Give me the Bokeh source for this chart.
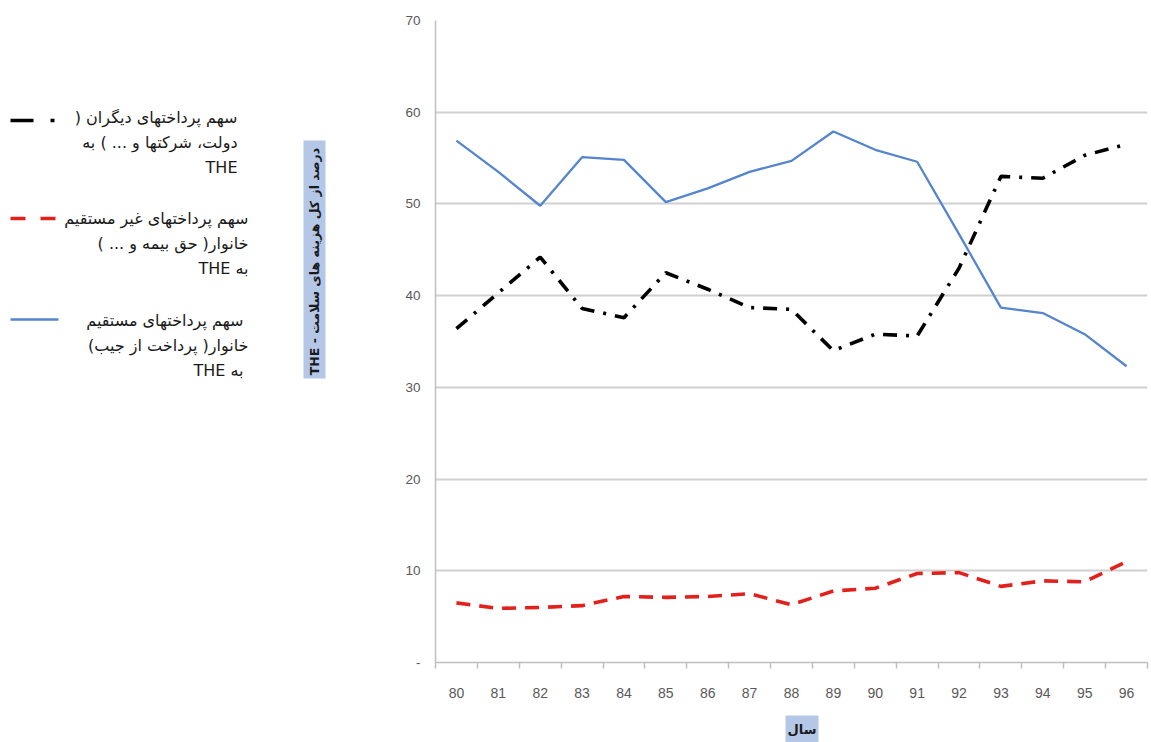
import math
from bokeh.plotting import figure
from bokeh.layouts import row, column
from bokeh.models import Range1d, FixedTicker
from bokeh.core.properties import value
from bokeh.embed import file_html
from bokeh.resources import INLINE

# ---------------- data ----------------
years = [80, 81, 82, 83, 84, 85, 86, 87, 88, 89, 90, 91, 92, 93, 94, 95, 96]
direct_oop = [56.9, 53.5, 49.8, 55.1, 54.8, 50.2, 51.7, 53.5, 54.7, 57.9, 55.9, 54.6, 46.7, 38.7, 38.1, 35.8, 32.3]
others_share = [36.4, 40.3, 44.2, 38.6, 37.6, 42.5, 40.7, 38.7, 38.5, 34.0, 35.8, 35.6, 43.0, 53.0, 52.8, 55.3, 56.5]
indirect_hh = [6.5, 5.9, 6.0, 6.2, 7.2, 7.1, 7.2, 7.5, 6.3, 7.8, 8.1, 9.7, 9.8, 8.3, 8.9, 8.8, 11.0]
y_ticks = [0, 10, 20, 30, 40, 50, 60, 70]

RLE, PDF = "\u202b", "\u202c"
def rtl(s):
    return RLE + s + PDF

legend_lines = [
    ["سهم پرداختهای دیگران (", "دولت، شرکتها و ... ) به", "THE"],
    ["سهم پرداختهای غیر مستقیم", "خانوار( حق بیمه و ... )", "به THE"],
    ["سهم  پرداختهای مستقیم", "خانوار( پرداخت از جیب)", "به  THE"],
]
y_label = "درصد از کل هزینه های سلامت - THE"
x_label = "سال"

BLUE = "#5585cc"
RED = "#e3211c"
BLACK = "#000000"
GRID = "#d0d0d0"
AXIS = "#bfbfbf"
TICK_TXT = "#595959"
LABEL_BG = "#b4c7e7"

TOP, BOTTOM, LEFT, RIGHT = 20, 46, 95, 4


def blank(fig):
    fig.xaxis.visible = False
    fig.yaxis.visible = False
    fig.xgrid.visible = False
    fig.ygrid.visible = False
    fig.outline_line_color = None


# ---------------- main chart ----------------
p = figure(width=811, height=708, x_range=Range1d(79.5, 96.5), y_range=Range1d(0, 70),
           output_backend="svg", toolbar_location=None,
           min_border_left=LEFT, min_border_right=RIGHT, min_border_top=TOP, min_border_bottom=BOTTOM)
p.outline_line_color = None
p.background_fill_color = "white"
p.xgrid.grid_line_color = None
p.ygrid.ticker = FixedTicker(ticks=y_ticks)
p.ygrid.grid_line_color = GRID
p.ygrid.grid_line_width = 2

p.yaxis.ticker = FixedTicker(ticks=y_ticks)
p.yaxis.major_label_overrides = {0: "-"}
p.yaxis.axis_line_color = AXIS
p.yaxis.axis_line_width = 1.5
p.yaxis.major_tick_line_color = None
p.yaxis.minor_tick_line_color = None
p.yaxis.major_tick_out = 0
p.yaxis.major_tick_in = 0
p.yaxis.major_label_standoff = 15
p.yaxis.major_label_text_font = "Liberation Sans"
p.yaxis.major_label_text_font_size = "13.5px"
p.yaxis.major_label_text_color = TICK_TXT

boundaries = [y - 0.5 for y in years] + [years[-1] + 0.5]
p.xaxis.ticker = FixedTicker(ticks=years, minor_ticks=boundaries)
p.xaxis.axis_line_color = AXIS
p.xaxis.axis_line_width = 1.5
p.xaxis.major_tick_line_color = None
p.xaxis.major_tick_out = 0
p.xaxis.major_tick_in = 0
p.xaxis.minor_tick_line_color = AXIS
p.xaxis.minor_tick_line_width = 1.5
p.xaxis.minor_tick_out = 6
p.xaxis.minor_tick_in = 0
p.xaxis.major_label_standoff = 19
p.xaxis.major_label_text_font = "Liberation Sans"
p.xaxis.major_label_text_font_size = "14px"
p.xaxis.major_label_text_color = TICK_TXT

p.line(years, direct_oop, line_color=BLUE, line_width=2.3)
p.line(years, indirect_hh, line_color=RED, line_width=3.6, line_dash="14 9")
p.line(years, others_share, line_color=BLACK, line_width=3.6, line_dash="14 9 3 9")

# ---------------- left panel: legend + y label ----------------
# frame is aligned with the main chart's frame (page y 20..662)
lf = figure(width=340, height=708, x_range=Range1d(0, 340), y_range=Range1d(708 - BOTTOM, TOP),
            output_backend="svg", toolbar_location=None,
            min_border_left=0, min_border_right=0, min_border_top=TOP, min_border_bottom=BOTTOM)
blank(lf)

lf.line([10, 54], [120, 120], line_color=BLACK, line_width=3.6, line_dash="23 17 4 30")
lf.line([10, 57], [218, 218], line_color=RED, line_width=3.6, line_dash="15 15")
lf.line([10, 58], [319, 319], line_color=BLUE, line_width=2.3)

rights = [237, 248, 248]
tops = [117, 218, 320]
tx, ty, tt = [], [], []
for i, lines in enumerate(legend_lines):
    for j, s in enumerate(lines):
        tx.append(rights[i])
        ty.append(tops[i] + j * 25)
        tt.append(rtl(s))
lf.text(x=tx, y=ty, text=tt, text_align="right", text_baseline="middle",
        text_font=value("DejaVu Sans"), text_font_size="16px", text_color="#1a1a1a")

lf.quad(left=[303], right=[325], top=[140], bottom=[378], fill_color=LABEL_BG, line_color=None)
lf.text(x=[314], y=[261], text=[rtl(y_label)], angle=math.pi / 2, text_align="center",
        text_baseline="middle", text_font=value("DejaVu Sans"), text_font_size="12.5px",
        text_font_style="bold", text_color="#1a1a1a")

# ---------------- bottom strip: x label ----------------
xf = figure(width=1151, height=34, x_range=Range1d(0, 1151), y_range=Range1d(742, 708),
            output_backend="svg", toolbar_location=None,
            min_border_left=0, min_border_right=0, min_border_top=0, min_border_bottom=0)
blank(xf)
xf.quad(left=[785], right=[818], top=[715], bottom=[742], fill_color=LABEL_BG, line_color=None)
xf.text(x=[801.5], y=[729], text=[x_label], text_align="center", text_baseline="middle",
        text_font=value("DejaVu Sans"), text_font_size="13px", text_font_style="bold",
        text_color="#1a1a1a")

layout = column(row(lf, p, spacing=0), xf, spacing=0)
open("out.html", "w").write(file_html(layout, INLINE))
